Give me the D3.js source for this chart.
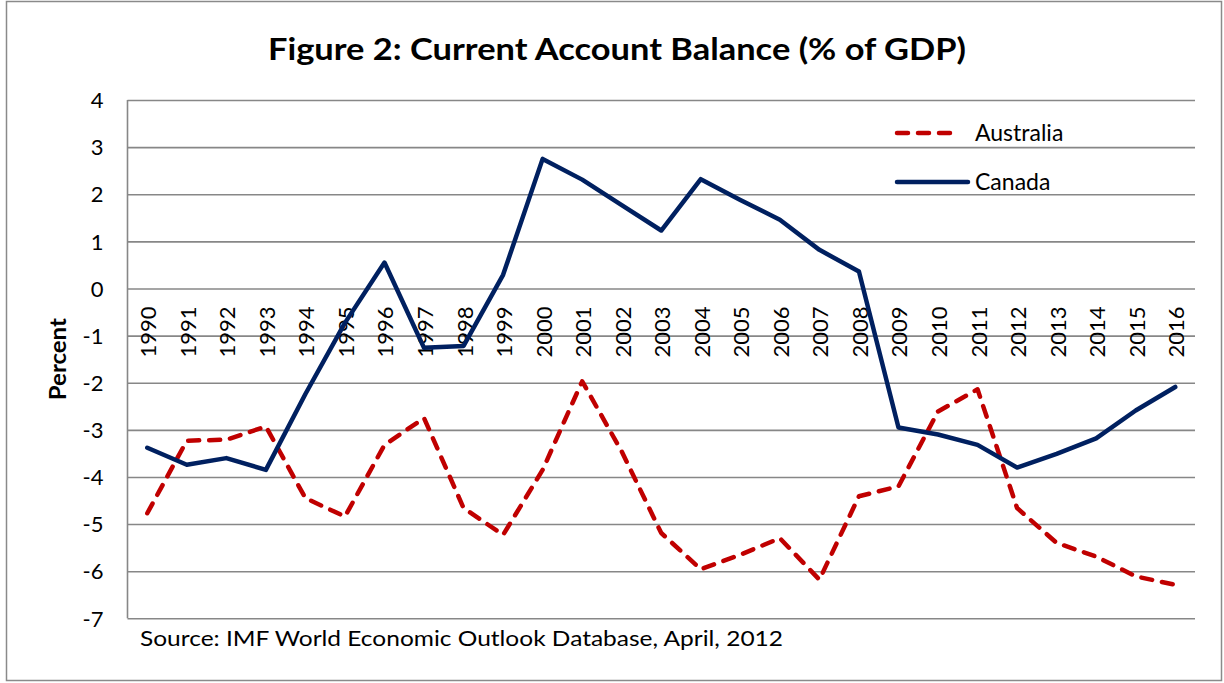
<!DOCTYPE html>
<html><head><meta charset="utf-8">
<script src="https://cdn.jsdelivr.net/npm/d3@7"></script>
<style>body{margin:0;background:#fff}svg{display:block}text{font-family:Lato,"Open Sans",sans-serif}</style>
</head><body>
<svg id="c" width="1224" height="683"></svg>
<script>
const years = ["1990","1991","1992","1993","1994","1995","1996","1997","1998","1999","2000","2001","2002","2003","2004","2005","2006","2007","2008","2009","2010","2011","2012","2013","2014","2015","2016"];
const australia = [-4.77,-3.23,-3.21,-2.93,-4.45,-4.84,-3.32,-2.75,-4.66,-5.23,-3.85,-1.97,-3.46,-5.19,-5.96,-5.65,-5.30,-6.18,-4.41,-4.20,-2.61,-2.14,-4.66,-5.40,-5.69,-6.11,-6.29];
const canada = [-3.38,-3.74,-3.60,-3.85,-2.24,-0.73,0.55,-1.26,-1.22,0.29,2.75,2.31,1.77,1.23,2.32,1.88,1.46,0.82,0.36,-2.95,-3.10,-3.32,-3.80,-3.51,-3.18,-2.59,-2.09];
const yTicks = [4,3,2,1,0,-1,-2,-3,-4,-5,-6,-7];
const seriesNames = ["Australia","Canada"];

const svg = d3.select("#c");
const L=127.5, R=1195, T=100, B=618.3;
const x = d3.scaleBand().domain(years).range([L,R]);
const y = d3.scaleLinear().domain([-7,4]).range([B,T]);

svg.append("rect").attr("x",6.5).attr("y",1.5).attr("width",1215).attr("height",679)
  .attr("fill","#fff").attr("stroke","#8a8a8a").attr("stroke-width",1.5);

svg.append("text").attr("x",617).attr("y",60).attr("text-anchor","middle")
  .attr("font-size",30).attr("font-weight","bold").attr("fill","#000")
  .attr("textLength",698).attr("lengthAdjust","spacingAndGlyphs")
  .text("Figure 2: Current Account Balance (% of GDP)");

// gridlines
const gy = svg.append("g").attr("transform",`translate(${L},0)`)
  .call(d3.axisLeft(y).tickValues(yTicks).tickSize(-(R-L)).tickFormat(d => String(d)).tickPadding(24));
gy.select(".domain").remove();
gy.selectAll(".tick line").attr("stroke","#878787").attr("stroke-width",1.6);
gy.selectAll(".tick text").attr("font-size",22).attr("fill","#000").attr("font-family","Lato,'Open Sans',sans-serif").attr("dy","0.35em");
svg.append("line").attr("x1",L).attr("x2",L).attr("y1",T).attr("y2",B).attr("stroke","#878787").attr("stroke-width",1.6);

// year labels
const gx = svg.append("g").attr("transform",`translate(0,${y(0)})`)
  .call(d3.axisBottom(x).tickSize(0).tickPadding(0));
gx.select(".domain").remove();
gx.selectAll(".tick text").attr("font-size",22).attr("fill","#000")
  .attr("font-family","Lato,'Open Sans',sans-serif")
  .attr("text-anchor","end").attr("dy",null).attr("y",0)
  .attr("transform","translate(9,18) rotate(-90)");

svg.append("text").attr("transform",`translate(66,${(T+B)/2}) rotate(-90)`).attr("text-anchor","middle")
  .attr("font-size",22).attr("font-weight","bold").attr("textLength",82).attr("lengthAdjust","spacingAndGlyphs").text("Percent");

svg.append("text").attr("x",140).attr("y",646).attr("font-size",22)
  .attr("textLength",643).attr("lengthAdjust","spacingAndGlyphs")
  .text("Source: IMF World Economic Outlook Database, April, 2012");

const line = d3.line().x((d,i)=>x(years[i])+x.bandwidth()/2).y(d=>y(d));
svg.append("path").datum(australia).attr("d",line).attr("fill","none")
  .attr("stroke","#C00000").attr("stroke-width",4.5).attr("stroke-dasharray","11,10")
  .attr("stroke-linecap","round").attr("stroke-linejoin","round");
svg.append("path").datum(canada).attr("d",line).attr("fill","none")
  .attr("stroke","#002060").attr("stroke-width",4.5)
  .attr("stroke-linecap","round").attr("stroke-linejoin","round");

// legend
const lg = svg.append("g");
const legY = [133,182];
lg.append("line").attr("x1",897).attr("x2",958).attr("y1",legY[0]).attr("y2",legY[0])
  .attr("stroke","#C00000").attr("stroke-width",4.5).attr("stroke-dasharray","11,10").attr("stroke-linecap","round");
lg.append("line").attr("x1",897).attr("x2",968).attr("y1",legY[1]).attr("y2",legY[1])
  .attr("stroke","#002060").attr("stroke-width",4.5).attr("stroke-linecap","round");
seriesNames.forEach((n,i)=>{
  lg.append("text").attr("x",975).attr("y",legY[i]).attr("dy","0.35em").attr("font-size",23).text(n);
});
</script>
</body></html>
